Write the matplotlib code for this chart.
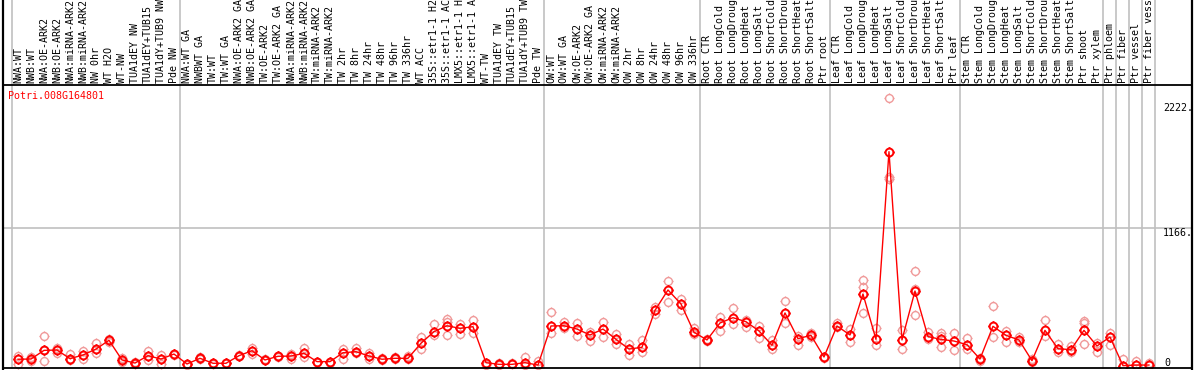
import matplotlib
matplotlib.use("Agg")
import matplotlib.pyplot as plt
from matplotlib.path import Path
import matplotlib.transforms as mtransforms
import numpy as np

title = "Potri.008G164801"

labels = [
    "NWA:WT", "NWB:WT", "NWA:OE-ARK2", "NWB:OE-ARK2", "NWA:miRNA-ARK2", "NWB:miRNA-ARK2",
    "NW 0hr", "WT H2O", "WT-NW", "TUA1dEY NW", "TUA1dEY+TUB15", "TUA1dY+TUB9 NW", "Pde NW",
    "NWA:WT GA", "NWBWT GA", "TW:WT", "TW:WT GA", "NWA:OE-ARK2 GA", "NWB:OE-ARK2 GA",
    "TW:OE-ARK2", "TW:OE-ARK2 GA", "NWA:miRNA-ARK2", "NWB:miRNA-ARK2", "TW:miRNA-ARK2",
    "TW:miRNA-ARK2", "TW 2hr", "TW 8hr", "TW 24hr", "TW 48hr", "TW 96hr", "TW 336hr",
    "WT ACC", "35S::etr1-1 H2", "35S::etr1-1 AC", "LMX5::etr1-1 H", "LMX5::etr1-1 A",
    "WT-TW", "TUA1dEY TW", "TUA1dEY+TUB15", "TUA1dY+TUB9 TW", "Pde TW",
    "OW:WT", "OW:WT GA", "OW:OE-ARK2", "OW:OE-ARK2 GA", "OW:miRNA-ARK2", "OW:miRNA-ARK2",
    "OW 2hr", "OW 8hr", "OW 24hr", "OW 48hr", "OW 96hr", "OW 336hr",
    "Root CTR", "Root LongCold", "Root LongDroug", "Root LongHeat", "Root LongSalt",
    "Root ShortCold", "Root ShortDrou", "Root ShortHeat", "Root ShortSalt", "Ptr root",
    "Leaf CTR", "Leaf LongCold", "Leaf LongDroug", "Leaf LongHeat", "Leaf LongSalt",
    "Leaf ShortCold", "Leaf ShortDrou", "Leaf ShortHeat", "Leaf ShortSalt", "Ptr leaf",
    "Stem CTR", "Stem LongCold", "Stem LongDroug", "Stem LongHeat", "Stem LongSalt",
    "Stem ShortCold", "Stem ShortDrou", "Stem ShortHeat", "Stem ShortSalt", "Ptr shoot",
    "Ptr xylem", "Ptr phloem", "Ptr fiber", "Ptr vessel", "Ptr fiber vess",
]

group_sizes = [13, 28, 12, 10, 10, 11, 1, 1, 1, 1]

means = [
    57, 59, 132, 135, 62, 93, 143, 217, 51, 25, 87, 59, 101,
    17, 65, 23, 23, 87, 129, 51, 82, 84, 107, 37, 37, 112, 121, 84, 57, 65, 65,
    192, 290, 340, 318, 332, 28, 14, 14, 28, 8,
    338, 340, 312, 262, 312, 225, 143, 158, 470, 642, 524, 285,
    220, 363, 408, 374, 296, 175, 448, 231, 259, 76,
    338, 262, 608, 225, 1810, 220, 633, 248, 225, 211,
    180, 59, 335, 259, 220, 45, 301, 146, 138, 301, 169,
    245, 3, 8, 8,
]

replicates = [
    [84, 17], [73, 40], [253, 42, 132], [155, 112], [101, 51], [127, 62], [194, 112],
    [225, 203], [68, 31], [34, 17], [124, 51], [95, 19], [101, 95],
    [17, 10], [80, 60], [23, 20], [23, 25], [87, 90], [149, 101], [51, 55], [84, 80],
    [101, 60], [149, 79], [37, 33], [37, 25], [143, 57], [149, 107], [112, 57],
    [65, 50], [79, 57], [82, 57], [242, 143], [357, 262], [394, 374, 262], [357, 268],
    [388, 276], [28, 5], [28, 8], [28, 14], [79, 8], [45, 5],
    [459, 276], [374, 318], [360, 253], [290, 214], [372, 248], [268, 188], [183, 90],
    [220, 118], [501, 439], [715, 538], [566, 473], [318, 270],
    [231, 208], [416, 296], [487, 355], [388, 327], [338, 234], [220, 143], [549, 366],
    [253, 180], [276, 245], [80, 65],
    [360, 327], [312, 205], [724, 665, 445], [318, 177], [2261, 1595, 1580], [304, 143],
    [802, 650, 431], [290, 225], [276, 253, 158], [281, 135],
    [234, 143], [68, 45], [507, 242], [296, 200], [248, 200], [59, 37], [388, 253],
    [186, 121], [169, 121], [383, 360, 183], [197, 121],
    [281, 177], [59], [45], [28],
]

ytick_vals = [2222, 1166]
ytick_labels = ["2222.", "1166."]

W, H = 1194, 370
fig = plt.figure(figsize=(W / 100, H / 100), dpi=100)
ax_left, ax_right, ax_top, ax_bot = 3, 1192, 85, 368
ax = fig.add_axes([ax_left / W, 1 - ax_bot / H, (ax_right - ax_left) / W, (ax_bot - ax_top) / H])
ax.set_xlim(-1.154, 90.31)
ax.set_ylim(-16.9, 2373)
ax.set_xticks([])
ax.set_yticks([])
for s in ["left", "right", "top", "bottom"]:
    ax.spines[s].set_visible(False)

mono = "DejaVu Sans Mono"
fs = 7.2

# marker: circle (polygon) with four short outer ticks
th = np.linspace(0, 2 * np.pi, 41)
cverts = np.column_stack([np.cos(th), np.sin(th)])
circ = Path(cverts, [Path.MOVETO] + [Path.LINETO] * 40)
tl = 1.3
ticks = Path([(0, 1), (0, tl), (0, -1), (0, -tl), (1, 0), (tl, 0), (-1, 0), (-tl, 0)],
             [Path.MOVETO, Path.LINETO] * 4)
mk = Path.make_compound_path(circ, ticks)
ms = 3.9 * tl / (0.5 * 100 / 72)

# separators
bounds = [-0.5]
acc = 0
for g in group_sizes:
    acc += g
    bounds.append(acc - 0.5)
top_ext = 1 + ax_top / (ax_bot - ax_top)
for b in bounds:
    ax.axvline(b, ymin=0, ymax=top_ext, color="#c0c0c0", lw=1.2, clip_on=False, zorder=1)
ax.axhline(ytick_vals[1], color="#c0c0c0", lw=1.2, zorder=1)

xs = list(range(len(labels)))
rx, ry = [], []
for i, reps in enumerate(replicates):
    for v in reps:
        rx.append(i)
        ry.append(v)
ax.plot(rx, ry, linestyle="none", marker=mk, markersize=ms, mfc="none",
        mec="#f09a9a", mew=1.0, zorder=2, clip_on=False)
ax.plot(xs, means, color="red", lw=1.0, zorder=3)
ax.plot(xs, means, linestyle="none", marker=mk, markersize=ms, mfc="none",
        mec="red", mew=1.4, zorder=4)

# top labels
trans = mtransforms.blended_transform_factory(ax.transData, ax.transAxes)
yl = 1 + 2 / (ax_bot - ax_top)
for i, lab in enumerate(labels):
    ax.text(i, yl, lab, rotation=90, ha="center", va="bottom", fontsize=fs,
            family=mono, transform=trans, clip_on=False)

# right value labels
xlab = (1163 - 18) / 13
for v, t in zip(ytick_vals, ytick_labels):
    ax.text(xlab, v, t, ha="left", va="top", fontsize=fs, family=mono)
ax.text(xlab + 0.08, 0, "0", ha="left", va="baseline", fontsize=fs, family=mono)

# title
fig.text(8 / W, 1 - 91 / H, title, color="red", ha="left", va="top", fontsize=fs, family=mono)

# frame lines
fig.add_artist(plt.Line2D([3 / W, 3 / W], [0, 1], color="black", lw=1.6, transform=fig.transFigure))
fig.add_artist(plt.Line2D([1192 / W, 1192 / W], [0, 1], color="black", lw=1.6, transform=fig.transFigure))
for yy in (ax_top, ax_bot):
    fig.add_artist(plt.Line2D([3 / W, 1192 / W], [1 - yy / H, 1 - yy / H], color="black", lw=1.3,
                              transform=fig.transFigure))

fig.savefig("out.png", dpi=100, facecolor="white")
